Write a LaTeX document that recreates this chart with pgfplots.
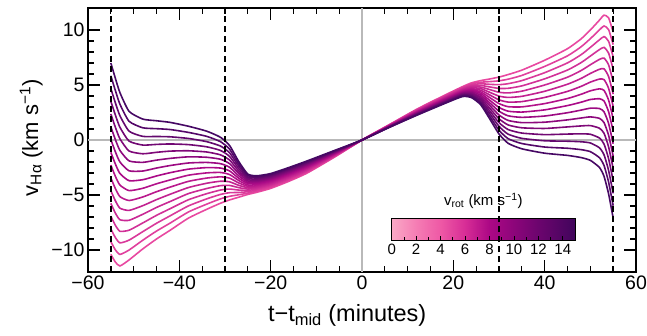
\documentclass[border=0pt]{standalone}
\usepackage{fontspec}
\setmainfont{Liberation Sans}
\usepackage{pgfplots}
\usepackage{pgfplotstable}
\pgfplotsset{compat=1.18}

\definecolor{vc0}{RGB}{232,72,160}
\definecolor{vc1}{RGB}{224,64,157}
\definecolor{vc2}{RGB}{217,57,154}
\definecolor{vc3}{RGB}{209,49,151}
\definecolor{vc4}{RGB}{201,41,148}
\definecolor{vc5}{RGB}{194,34,144}
\definecolor{vc6}{RGB}{186,26,141}
\definecolor{vc7}{RGB}{178,18,138}
\definecolor{vc8}{RGB}{170,10,135}
\definecolor{vc9}{RGB}{156,10,130}
\definecolor{vc10}{RGB}{141,9,125}
\definecolor{vc11}{RGB}{127,9,120}
\definecolor{vc12}{RGB}{113,9,115}
\definecolor{vc13}{RGB}{99,9,110}
\definecolor{vc14}{RGB}{84,8,105}
\definecolor{vc15}{RGB}{70,8,100}

\pgfplotstableread{
x c0 c1 c2 c3 c4 c5 c6 c7 c8 c9 c10 c11 c12 c13 c14 c15
-55 -10.4 -9.24 -8.08 -6.92 -5.76 -4.6 -3.44 -2.28 -1.12 0.04 1.2 2.36 3.52 4.68 5.84 7.0
-54 -11.1 -9.99 -8.87 -7.76 -6.65 -5.53 -4.42 -3.31 -2.19 -1.08 0.03 1.15 2.26 3.37 4.49 5.6
-53 -11.45 -10.4 -9.35 -8.3 -7.25 -6.2 -5.15 -4.1 -3.05 -2.0 -0.95 0.1 1.15 2.2 3.25 4.3
-51 -10.9 -10.0 -9.1 -8.2 -7.3 -6.4 -5.5 -4.6 -3.7 -2.8 -1.9 -1.0 -0.1 0.8 1.7 2.6
-48 -9.9 -9.11 -8.33 -7.54 -6.75 -5.97 -5.18 -4.39 -3.61 -2.82 -2.03 -1.25 -0.46 0.33 1.11 1.9
-45 -9.0 -8.28 -7.57 -6.85 -6.13 -5.42 -4.7 -3.98 -3.27 -2.55 -1.83 -1.12 -0.4 0.32 1.03 1.75
-42 -8.2 -7.55 -6.89 -6.24 -5.59 -4.93 -4.28 -3.63 -2.97 -2.32 -1.67 -1.01 -0.36 0.29 0.95 1.6
-38 -7.1 -6.54 -5.99 -5.43 -4.87 -4.32 -3.76 -3.2 -2.65 -2.09 -1.53 -0.98 -0.42 0.14 0.69 1.25
-34 -6.3 -5.83 -5.35 -4.88 -4.41 -3.93 -3.46 -2.99 -2.51 -2.04 -1.57 -1.09 -0.62 -0.15 0.33 0.8
-31 -5.75 -5.35 -4.95 -4.55 -4.15 -3.75 -3.35 -2.95 -2.55 -2.15 -1.75 -1.35 -0.95 -0.55 -0.15 0.25
-29 -5.45 -5.12 -4.79 -4.46 -4.13 -3.8 -3.47 -3.14 -2.81 -2.48 -2.15 -1.82 -1.49 -1.16 -0.83 -0.5
-27 -5.2 -4.98 -4.77 -4.55 -4.33 -4.12 -3.9 -3.68 -3.47 -3.25 -3.03 -2.82 -2.6 -2.38 -2.17 -1.95
-25 -4.95 -4.83 -4.7 -4.58 -4.46 -4.33 -4.21 -4.09 -3.96 -3.84 -3.72 -3.59 -3.47 -3.35 -3.22 -3.1
-23 -4.75 -4.65 -4.55 -4.45 -4.35 -4.25 -4.15 -4.05 -3.95 -3.85 -3.75 -3.65 -3.55 -3.45 -3.35 -3.25
-20 -4.4 -4.31 -4.22 -4.13 -4.04 -3.95 -3.86 -3.77 -3.68 -3.59 -3.5 -3.41 -3.32 -3.23 -3.14 -3.05
-16 -3.75 -3.67 -3.58 -3.5 -3.42 -3.33 -3.25 -3.17 -3.08 -3.0 -2.92 -2.83 -2.75 -2.67 -2.58 -2.5
-12 -3.0 -2.93 -2.85 -2.78 -2.71 -2.63 -2.56 -2.49 -2.41 -2.34 -2.27 -2.19 -2.12 -2.05 -1.97 -1.9
-6 -1.55 -1.51 -1.47 -1.43 -1.39 -1.35 -1.31 -1.27 -1.23 -1.19 -1.15 -1.11 -1.07 -1.03 -0.99 -0.95
0 0 0 0 0 0 0 0 0 0 0 0 0 0 0 0 0
6 1.4 1.38 1.37 1.35 1.33 1.32 1.3 1.28 1.27 1.25 1.23 1.22 1.2 1.18 1.17 1.15
12 2.8 2.76 2.73 2.69 2.65 2.62 2.58 2.54 2.51 2.47 2.43 2.4 2.36 2.32 2.29 2.25
18 4.05 4.0 3.95 3.9 3.85 3.8 3.75 3.7 3.65 3.6 3.55 3.5 3.45 3.4 3.35 3.3
22 4.85 4.79 4.73 4.67 4.61 4.55 4.49 4.43 4.37 4.31 4.25 4.19 4.13 4.07 4.01 3.95
24 5.2 5.11 5.02 4.93 4.84 4.75 4.66 4.57 4.48 4.39 4.3 4.21 4.12 4.03 3.94 3.85
26 5.4 5.25 5.11 4.96 4.81 4.67 4.52 4.37 4.23 4.08 3.93 3.79 3.64 3.49 3.35 3.2
28 5.55 5.31 5.06 4.82 4.58 4.33 4.09 3.85 3.6 3.36 3.12 2.87 2.63 2.39 2.14 1.9
30 5.72 5.38 5.03 4.69 4.34 3.99 3.65 3.31 2.96 2.62 2.27 1.93 1.58 1.24 0.89 0.55
32 5.95 5.53 5.12 4.7 4.28 3.87 3.45 3.03 2.62 2.2 1.78 1.37 0.95 0.53 0.12 -0.3
35 6.35 5.87 5.4 4.92 4.44 3.97 3.49 3.01 2.54 2.06 1.58 1.11 0.63 0.15 -0.32 -0.8
40 7.25 6.69 6.12 5.56 5.0 4.43 3.87 3.31 2.74 2.18 1.62 1.05 0.49 -0.07 -0.64 -1.2
45 8.3 7.65 7.01 6.36 5.71 5.07 4.42 3.77 3.13 2.48 1.83 1.19 0.54 -0.11 -0.75 -1.4
48 9.2 8.48 7.76 7.04 6.32 5.6 4.88 4.16 3.44 2.72 2.0 1.28 0.56 -0.16 -0.88 -1.6
50 10.0 9.21 8.42 7.63 6.84 6.05 5.26 4.47 3.68 2.89 2.1 1.31 0.52 -0.27 -1.06 -1.85
52 10.9 10.01 9.11 8.22 7.33 6.43 5.54 4.65 3.75 2.86 1.97 1.07 0.18 -0.71 -1.61 -2.5
53 11.35 10.37 9.4 8.42 7.44 6.47 5.49 4.51 3.54 2.56 1.58 0.61 -0.37 -1.35 -2.32 -3.3
54 11.1 10.03 8.97 7.9 6.83 5.77 4.7 3.63 2.57 1.5 0.43 -0.63 -1.7 -2.77 -3.83 -4.9
55 9.8 8.67 7.55 6.42 5.29 4.17 3.04 1.91 0.79 -0.34 -1.47 -2.59 -3.72 -4.85 -5.97 -7.1
}\vdata

\begin{document}
\begin{tikzpicture}
\path[use as bounding box] (-88pt,-63pt) rectangle (559pt,272pt);

% colour bar (drawn first so that the dashed line passes over it)
\begin{axis}[
  at={(303.7pt,31.3pt)}, anchor=south west,
  scale only axis, width=183.3pt, height=22.4pt,
  xmin=0, xmax=15, ymin=0, ymax=1,
  ytick=\empty,
  xtick={0,2,...,14}, xticklabels={0,2,4,6,8,10,12,14},
  minor x tick num=1,
  xtick pos=bottom, tick align=inside,
  major tick length=5pt, minor tick length=3.5pt,
  tick style={black, line width=0.8pt},
  axis line style={black, line width=1pt},
  xticklabel style={font=\fontsize{15}{17}\selectfont},
  colormap={vrot}{rgb255(0)=(250,168,198) rgb255(2)=(245,125,180) rgb255(4)=(238,88,165) rgb255(6)=(215,45,150) rgb255(8)=(172,8,133) rgb255(10)=(140,5,122) rgb255(12)=(108,5,110) rgb255(15)=(65,5,92)},
  point meta min=0, point meta max=15,
  axis on top,
  title={v\textsubscript{rot} (km s\textsuperscript{−1})},
  title style={at={(0.5,1)}, anchor=base, yshift=6.6pt, font=\fontsize{15}{17}\selectfont},
]
\addplot[surf, shader=interp, point meta=x, mesh/rows=2, mesh/cols=16] coordinates {
(0,0) (1,0) (2,0) (3,0) (4,0) (5,0) (6,0) (7,0) (8,0) (9,0) (10,0) (11,0) (12,0) (13,0) (14,0) (15,0)
(0,1) (1,1) (2,1) (3,1) (4,1) (5,1) (6,1) (7,1) (8,1) (9,1) (10,1) (11,1) (12,1) (13,1) (14,1) (15,1)
};
\end{axis}

\begin{axis}[
  at={(0pt,0pt)}, anchor=south west,
  scale only axis, width=548pt, height=264pt,
  xmin=-60, xmax=60, ymin=-12, ymax=12,
  xtick={-60,-40,...,60}, xticklabels={−60,−40,−20,0,20,40,60},
  ytick={-10,-5,0,5,10}, yticklabels={−10,−5,0,5,10},
  minor x tick num=3, minor y tick num=4,
  tick align=inside, major tick length=12pt, minor tick length=6pt,
  tick style={black, line width=1.1pt},
  axis line style={black, line width=1.3pt},
  ticklabel style={font=\fontsize{19.5}{22}\selectfont},
  xlabel={t−t\textsubscript{mid} (minutes)},
  ylabel={v\textsubscript{Hα} (km s\textsuperscript{−1})},
  xlabel style={at={(axis description cs:0.473,-0.189)}, anchor=base, font=\fontsize{23.5}{27}\selectfont},
  ylabel style={at={(axis description cs:-0.0912,0.509)}, anchor=base, rotate=0, font=\fontsize{22}{26}\selectfont},
  clip=false,
]
\addplot[gray!55, line width=1.1pt] coordinates {(-60,0) (60,0)};
\addplot[gray!55, line width=1.1pt] coordinates {(0,-12) (0,12)};
\pgfplotsinvokeforeach{0,...,15}{
  \addplot[vc#1, line width=1.6pt, smooth, tension=0.35] table[x=x, y=c#1]{\vdata};
}
\addplot[black, line width=1.4pt, dash pattern=on 6pt off 4pt] coordinates {(-55,-12) (-55,12)};
\addplot[black, line width=1.4pt, dash pattern=on 6pt off 4pt] coordinates {(-30,-12) (-30,12)};
\addplot[black, line width=1.4pt, dash pattern=on 6pt off 4pt] coordinates {(30,-12) (30,12)};
\addplot[black, line width=1.4pt, dash pattern=on 6pt off 4pt] coordinates {(55,-12) (55,12)};
\end{axis}
\end{tikzpicture}
\end{document}
